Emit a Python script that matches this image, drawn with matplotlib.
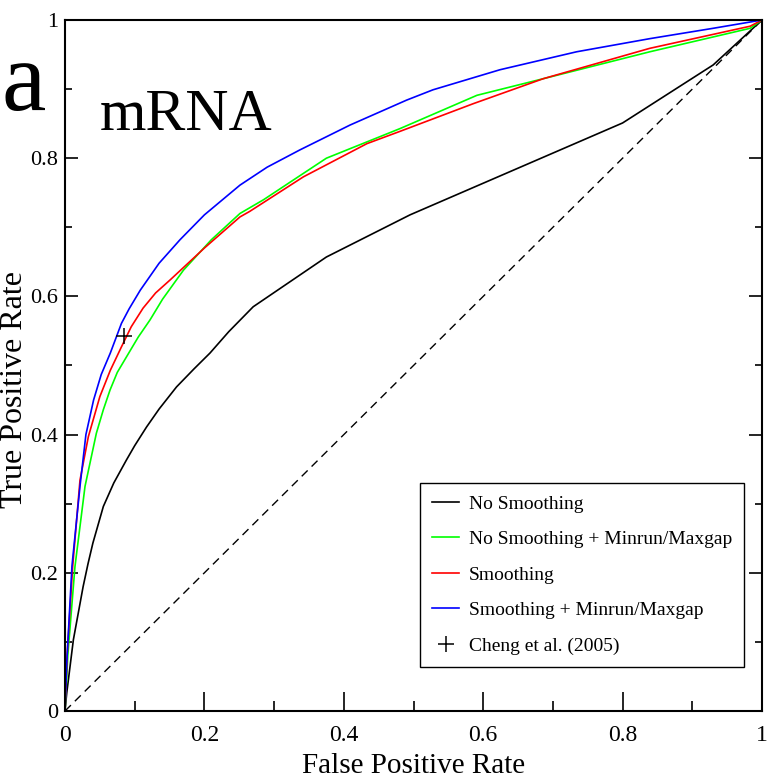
import matplotlib
matplotlib.use("Agg")
import matplotlib.pyplot as plt
from matplotlib.ticker import MultipleLocator, FixedLocator, FixedFormatter

plt.rcParams['font.family'] = ['Liberation Serif', 'DejaVu Serif']

# ROC curves (false positive rate, true positive rate)
no_smooth_fpr = [0, 0.0025, 0.012, 0.026, 0.033, 0.040, 0.055, 0.070, 0.088, 0.100,
                 0.117, 0.135, 0.160, 0.185, 0.208, 0.235, 0.270, 0.375, 0.495,
                 0.800, 0.930, 1.0]
no_smooth_tpr = [0, 0.026, 0.103, 0.180, 0.213, 0.243, 0.296, 0.330, 0.363, 0.384,
                 0.411, 0.437, 0.469, 0.495, 0.518, 0.549, 0.585, 0.657, 0.718,
                 0.851, 0.935, 1.0]

no_smooth_mm_fpr = [0, 0.004, 0.0143, 0.0287, 0.045, 0.055, 0.0646, 0.075, 0.0885, 0.105,
                    0.122, 0.140, 0.160, 0.170, 0.210, 0.251, 0.285, 0.375, 0.481,
                    0.591, 0.686, 0.839, 0.983, 1.0]
no_smooth_mm_tpr = [0, 0.08, 0.209, 0.325, 0.402, 0.436, 0.4645, 0.490, 0.513, 0.541,
                    0.566, 0.596, 0.624, 0.638, 0.682, 0.720, 0.740, 0.800, 0.843,
                    0.891, 0.915, 0.954, 0.988, 1.0]

smooth_fpr = [0, 0.003, 0.011, 0.0215, 0.0335, 0.050, 0.065, 0.081, 0.095, 0.112,
              0.130, 0.151, 0.200, 0.251, 0.265, 0.342, 0.433, 0.481, 0.586,
              0.686, 0.839, 0.983, 1.0]
smooth_tpr = [0, 0.08, 0.209, 0.334, 0.397, 0.455, 0.493, 0.527, 0.556, 0.583,
              0.605, 0.624, 0.670, 0.715, 0.723, 0.773, 0.821, 0.839, 0.879,
              0.915, 0.959, 0.991, 1.0]

smooth_mm_fpr = [0, 0.0025, 0.010, 0.0215, 0.030, 0.041, 0.052, 0.065, 0.081, 0.092,
                 0.108, 0.135, 0.165, 0.200, 0.251, 0.290, 0.337, 0.409, 0.490,
                 0.528, 0.624, 0.734, 0.839, 0.930, 1.0]
smooth_mm_tpr = [0, 0.07, 0.21, 0.325, 0.400, 0.450, 0.487, 0.518, 0.561, 0.582,
                 0.609, 0.648, 0.682, 0.718, 0.761, 0.787, 0.812, 0.848, 0.884,
                 0.899, 0.928, 0.954, 0.973, 0.988, 1.0]

cheng_fpr = [0.0847]
cheng_tpr = [0.542]

tick_values = [0, 0.2, 0.4, 0.6, 0.8, 1.0]
tick_labels = ["0", "0.2", "0.4", "0.6", "0.8", "1"]

W, H = 768, 780
fig = plt.figure(figsize=(W / 100, H / 100), dpi=100)
ax = fig.add_axes([65 / W, 69 / H, (762 - 65) / W, (711 - 20) / H])

ax.plot([0, 1], [0, 1], color='black', lw=1.0, dashes=(6, 4))
ax.plot(no_smooth_fpr, no_smooth_tpr, color='black', lw=1.2, label='No Smoothing')
ax.plot(no_smooth_mm_fpr, no_smooth_mm_tpr, color='#00ff00', lw=1.2,
        label='No Smoothing + Minrun/Maxgap')
ax.plot(smooth_fpr, smooth_tpr, color='#ff0000', lw=1.2, label='Smoothing')
ax.plot(smooth_mm_fpr, smooth_mm_tpr, color='#0000ff', lw=1.2,
        label='Smoothing + Minrun/Maxgap')
ax.plot(cheng_fpr, cheng_tpr, linestyle='none', marker='+', color='black',
        markersize=11, markeredgewidth=1.1, label='Cheng et al. (2005)')

ax.set_xlim(0, 1)
ax.set_ylim(0, 1)

for axis in (ax.xaxis, ax.yaxis):
    axis.set_major_locator(FixedLocator(tick_values))
    axis.set_major_formatter(FixedFormatter(tick_labels))
    axis.set_minor_locator(MultipleLocator(0.1))

ax.tick_params(axis='x', which='major', direction='in', length=14, width=1.2,
               labelsize=17, pad=10, top=False)
ax.tick_params(axis='x', which='minor', direction='in', length=7, width=1.2, top=False)
ax.tick_params(axis='y', which='major', direction='in', length=9.5, width=1.2,
               labelsize=16, pad=5, right=True)
ax.tick_params(axis='y', which='minor', direction='in', length=5, width=1.2, right=True)

for sp in ax.spines.values():
    sp.set_linewidth(1.5)

ax.set_xlabel('False Positive Rate', fontsize=21, labelpad=5)
ax.set_ylabel('True Positive Rate', fontsize=23)
ax.yaxis.set_label_coords((29 - 65) / (762 - 65), (711 - 390) / (711 - 20))

fig.text(24 / W, 1 - 110 / H, 'a', fontsize=72, ha='center', va='baseline')
fig.text(100 / W, 1 - 130 / H, 'mRNA', fontsize=43, ha='left', va='baseline')

leg = ax.legend(loc='upper left', bbox_to_anchor=(420 / W, 1 - 483 / H),
                bbox_transform=fig.transFigure, fontsize=14, frameon=True,
                fancybox=False, edgecolor='black', framealpha=1,
                handlelength=1.4, handletextpad=0.5, labelspacing=0.92,
                borderpad=0.62, borderaxespad=0)
leg.get_frame().set_linewidth(1.0)

fig.savefig('out.png', dpi=100)
